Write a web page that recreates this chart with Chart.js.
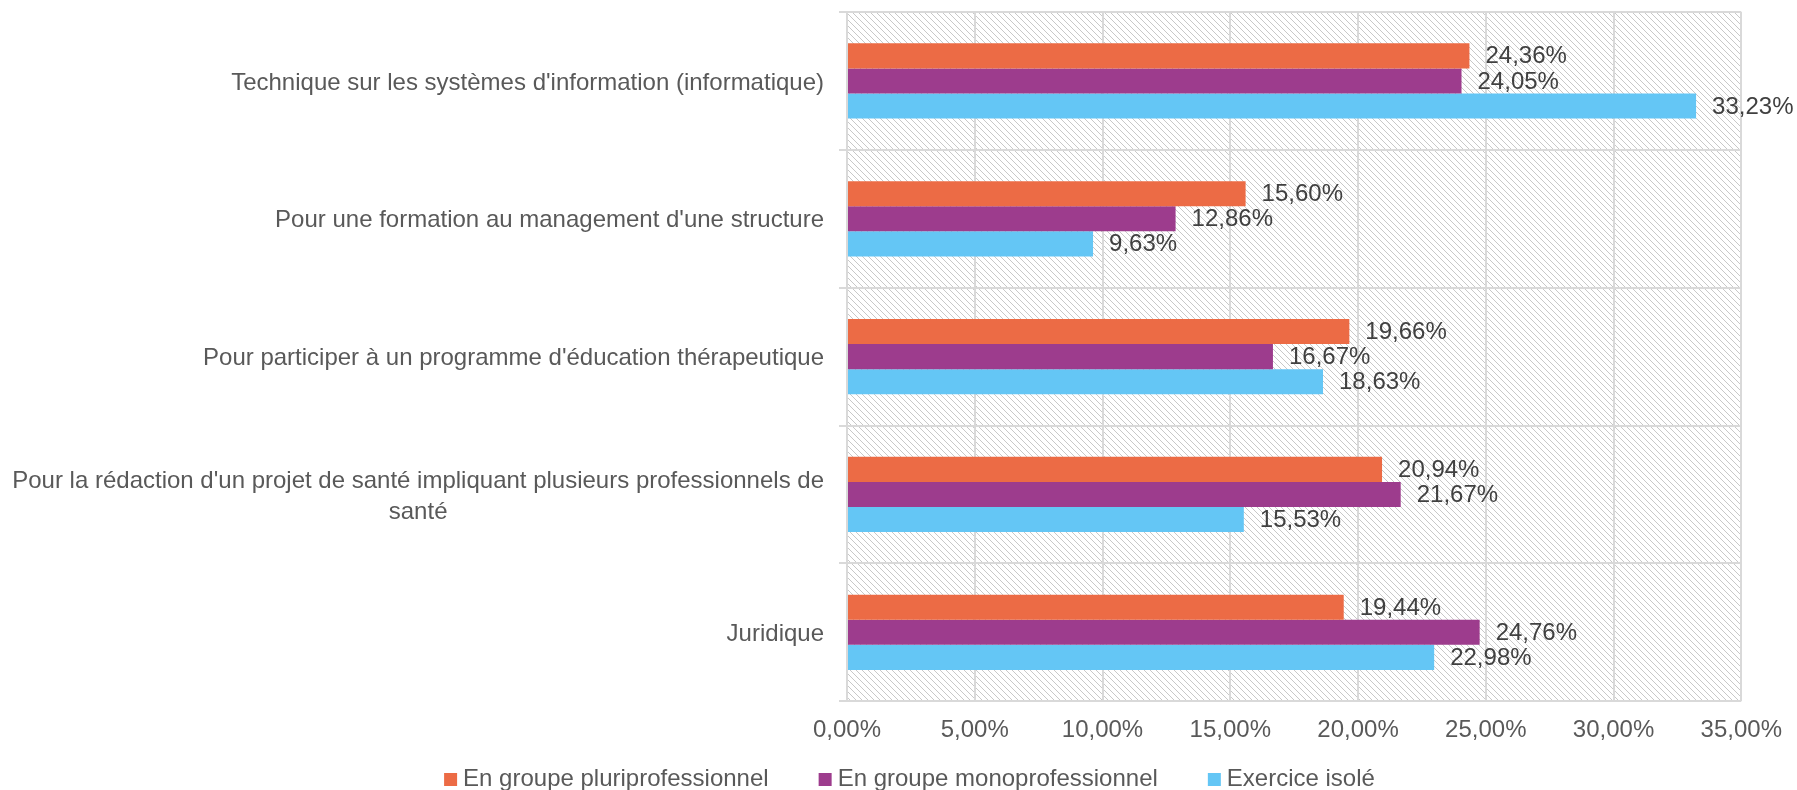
<!DOCTYPE html>
<html>
<head>
<meta charset="utf-8">
<script src="https://cdn.jsdelivr.net/npm/chart.js@4"></script>
<style>
  html, body { margin: 0; padding: 0; background: #fff; }
  #wrap { width: 1797px; height: 790px; }
</style>
</head>
<body>
<div id="wrap"><canvas id="myChart"></canvas></div>
<script>
const categories = [
  "Technique sur les systèmes d'information (informatique)",
  "Pour une formation au management d'une structure",
  "Pour participer à un programme d'éducation thérapeutique",
  ["Pour la rédaction d'un projet de santé impliquant plusieurs professionnels de", "santé"],
  "Juridique"
];
const pluri = [24.36, 15.60, 19.66, 20.94, 19.44];
const mono = [24.05, 12.86, 16.67, 21.67, 24.76];
const isole = [33.23, 9.63, 18.63, 15.53, 22.98];
const xTicks = [0, 5, 10, 15, 20, 25, 30, 35];

const police = '"Liberation Sans", Arial, sans-serif';
const grille = "#d9d9d9";

const pourcent = (v) => v.toFixed(2).replace(".", ",") + "%";

// hachures diagonales du fond de la zone de tracé
const makeHatch = () => {
  const n = 12;
  const c = document.createElement("canvas");
  c.width = n;
  c.height = n;
  const g = c.getContext("2d");
  const img = g.createImageData(n, n);
  for (let y = 0; y < n; y++) {
    for (let x = 0; x < n; x++) {
      const i = (y * n + x) * 4;
      const on = (x - y + 2 * n) % 6 === 0;
      const v = on ? 200 : 255;
      img.data[i] = v;
      img.data[i + 1] = v;
      img.data[i + 2] = v;
      img.data[i + 3] = 255;
    }
  }
  g.putImageData(img, 0, 0);
  return c;
};

const fondHachure = {
  id: "fondHachure",
  beforeDraw(chart) {
    const { ctx, chartArea } = chart;
    ctx.save();
    ctx.fillStyle = ctx.createPattern(makeHatch(), "repeat");
    ctx.fillRect(chartArea.left, chartArea.top, chartArea.right - chartArea.left, chartArea.bottom - chartArea.top);
    ctx.restore();
  }
};

// libellés des catégories : bloc aligné à droite, lignes centrées
const libellesY = {
  id: "libellesY",
  afterDraw(chart) {
    const { ctx } = chart;
    const scale = chart.scales.y;
    const droite = chart.chartArea.left - 23;
    const interligne = 31;
    ctx.save();
    ctx.font = "24px " + police;
    ctx.fillStyle = "#595959";
    ctx.textAlign = "center";
    ctx.textBaseline = "middle";
    categories.forEach((lab, i) => {
      const lignes = Array.isArray(lab) ? lab : [lab];
      const larg = Math.max(...lignes.map((l) => ctx.measureText(l).width));
      const cx = droite - larg / 2;
      const yc = scale.getPixelForValue(i);
      const y0 = yc - ((lignes.length - 1) * interligne) / 2 + 2;
      lignes.forEach((l, k) => ctx.fillText(l, cx, y0 + k * interligne));
    });
    ctx.restore();
  }
};

// valeurs affichées au bout des barres
const valeurs = {
  id: "valeurs",
  afterDatasetsDraw(chart) {
    const { ctx } = chart;
    ctx.save();
    ctx.font = "24px " + police;
    ctx.fillStyle = "#404040";
    ctx.textAlign = "left";
    ctx.textBaseline = "middle";
    chart.data.datasets.forEach((ds, d) => {
      chart.getDatasetMeta(d).data.forEach((bar, i) => {
        ctx.fillText(pourcent(ds.data[i]), bar.x + 16, bar.y + 1);
      });
    });
    ctx.restore();
  }
};

// légende en bas
const legende = {
  id: "legende",
  afterDraw(chart) {
    const { ctx } = chart;
    ctx.save();
    ctx.font = "24px " + police;
    ctx.textBaseline = "middle";
    const carre = 13, ecart = 6, espace = 50;
    const items = chart.data.datasets.map((ds) => ({
      label: ds.label,
      color: ds.backgroundColor,
      w: ctx.measureText(ds.label).width
    }));
    const total = items.reduce((s, it) => s + carre + ecart + it.w, 0) + espace * (items.length - 1);
    let x = (chart.width - total) / 2 + 11;
    const y = 779;
    items.forEach((it) => {
      ctx.fillStyle = it.color;
      ctx.fillRect(x, y - 6, carre, carre);
      ctx.fillStyle = "#595959";
      ctx.fillText(it.label, x + carre + ecart, y);
      x += carre + ecart + it.w + espace;
    });
    ctx.restore();
  }
};

const datasets = [
  { label: "En groupe pluriprofessionnel", data: pluri, backgroundColor: "#ec6b45" },
  { label: "En groupe monoprofessionnel", data: mono, backgroundColor: "#9d3c8d" },
  { label: "Exercice isolé", data: isole, backgroundColor: "#64c6f5" }
];

const config = {
  type: "bar",
  data: {
    labels: categories,
    datasets
  },
  options: {
    indexAxis: "y",
    responsive: true,
    maintainAspectRatio: false,
    animation: false,
    categoryPercentage: 0.546,
    barPercentage: 1,
    layout: { padding: { top: 12, right: 52, bottom: 30, left: 0 } },
    plugins: {
      legend: { display: false },
      tooltip: { enabled: false }
    },
    scales: {
      x: {
        min: 0,
        max: 35,
        afterBuildTicks: (scale) => {
          scale.ticks = xTicks.map((v) => ({ value: v }));
        },
        grid: { color: grille, lineWidth: 2, drawTicks: false },
        border: { display: false },
        ticks: {
          padding: 15,
          color: "#595959",
          font: { family: police, size: 24, lineHeight: 1.2 },
          callback: (v) => pourcent(v)
        }
      },
      y: {
        afterFit: (scale) => {
          scale.width = 847;
        },
        grid: { color: grille, lineWidth: 2, tickLength: 8 },
        border: { color: grille, width: 2 },
        ticks: { display: false }
      }
    }
  },
  plugins: [fondHachure, libellesY, valeurs, legende]
};

const grafica = document.getElementById("myChart");
const mychart = new Chart(grafica, config);
</script>
</body>
</html>
